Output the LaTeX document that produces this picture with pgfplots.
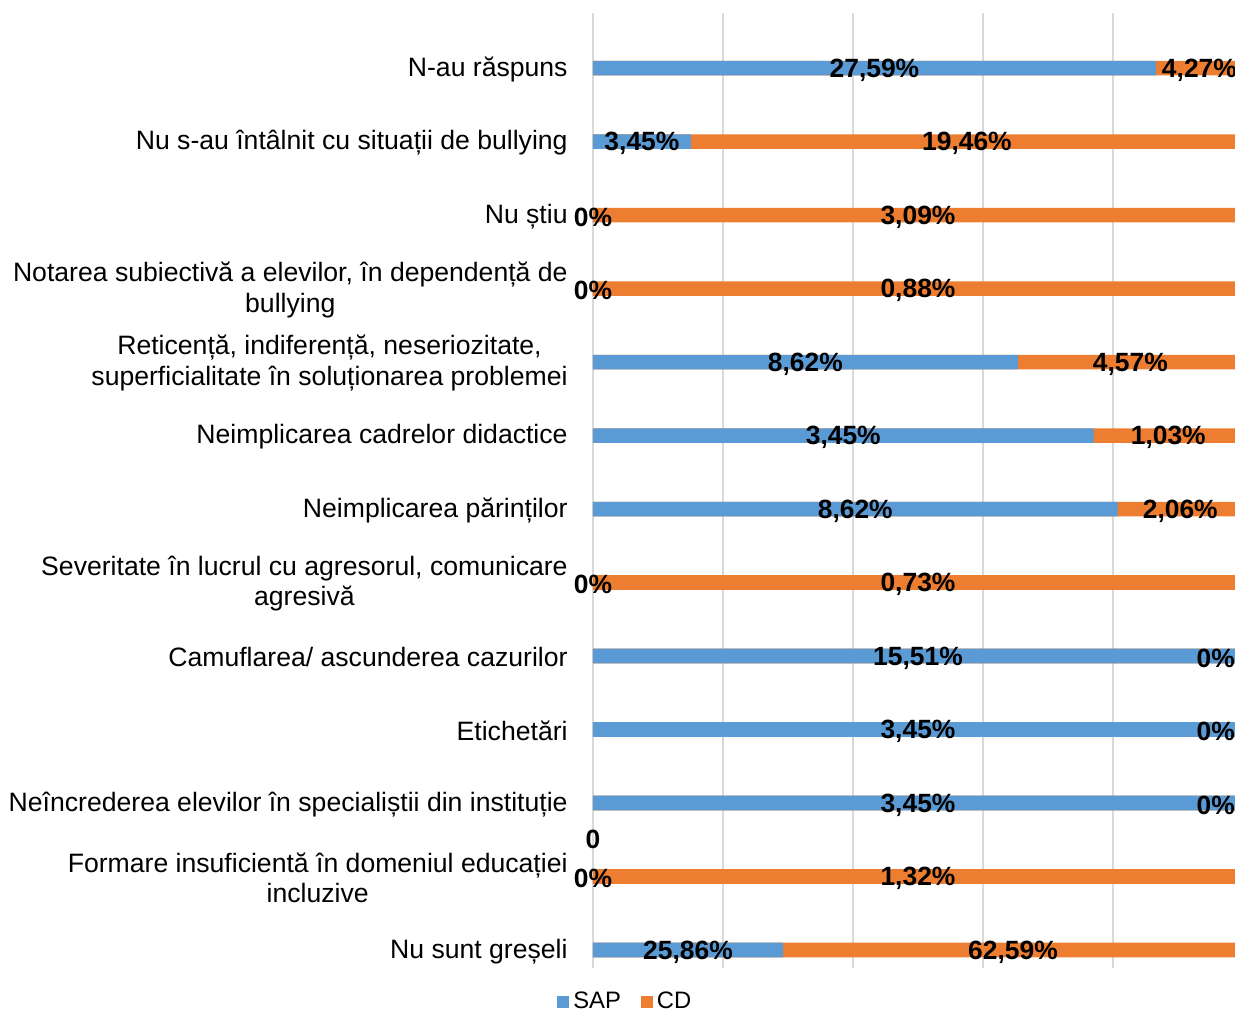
\documentclass[border=0pt]{standalone}
\usepackage{fontspec}
\setmainfont{Liberation Sans}
\usepackage{pgfplots}
\usepackage{pgfplotstable}
\pgfplotsset{compat=1.18}
\definecolor{sap}{HTML}{5B9BD5}
\definecolor{cd}{HTML}{ED7D31}
\definecolor{gridc}{HTML}{D9D9D9}
\pgfplotstableread{
idx SAP CD
0 27.59 4.27
1 3.45 19.46
2 0 3.09
3 0 0.88
4 8.62 4.57
5 3.45 1.03
6 8.62 2.06
7 0 0.73
8 15.51 0
9 3.45 0
10 3.45 0
11 0 1.32
12 25.86 62.59
}\data
\begin{document}
\begin{tikzpicture}
\begin{axis}[
  name=ax,
  scale only axis, width=321pt, height=477.5pt,
  xmin=0, xmax=98.77, ymin=-0.75, ymax=12.245, y dir=reverse,
  axis line style={draw=none}, tick style={draw=none},
  xtick={0,20,...,100}, xticklabels={},
  xmajorgrids, major grid style={gridc, line width=0.9pt},
  ytick={0,...,12},
  yticklabels={
    {N-au răspuns},
    {Nu s-au întâlnit cu situații de bullying},
    {Nu știu},
    {Notarea subiectivă a elevilor, în dependență de\\bullying},
    {Reticență, indiferență, neseriozitate,\\superficialitate în soluționarea problemei},
    {Neimplicarea cadrelor didactice},
    {Neimplicarea părinților},
    {Severitate în lucrul cu agresorul, comunicare\\agresivă},
    {Camuflarea/ ascunderea cazurilor},
    {Etichetări},
    {Neîncrederea elevilor în specialiștii din instituție},
    {Formare insuficientă în domeniul educației\\incluzive},
    {Nu sunt greșeli}},
  yticklabel style={font=\fontsize{13.3}{15.3}\selectfont, align=center, anchor=east, inner sep=0pt, xshift=-12.5pt, yshift=-0.6pt},
  bar width=7.3pt, bar shift=0pt,
  clip=false,
  legend style={at={(axis description cs:0.052,-0.0356)}, anchor=center, draw=none,
    font=\fontsize{11.9}{14}\selectfont, legend columns=2,
    /tikz/every even column/.append style={column sep=8pt}, inner sep=0pt},
  legend image code/.code={\fill[#1] (0pt,-3pt) rectangle (6pt,3pt);},
  reverse legend,
]
\addplot[xbar, fill=cd, draw=none] table[x expr=100, y=idx] {\data};
\addlegendentry{CD}
\addplot[xbar, fill=sap, draw=none] table[x expr={100*\thisrow{SAP}/(\thisrow{SAP}+\thisrow{CD})}, y=idx] {\data};
\addlegendentry{SAP}
\addplot[forget plot, only marks, mark=none, draw=none, point meta=\thisrow{SAP},
  nodes near coords={\pgfmathprintnumber[fixed,precision=2,use comma,assume math mode=true]{\pgfplotspointmeta}\%},
  nodes near coords style={anchor=center, font=\bfseries\fontsize{13.2}{15}\selectfont, inner sep=0pt, yshift=-1pt}]
  table[x expr={50*\thisrow{SAP}/(\thisrow{SAP}+\thisrow{CD})}, y=idx] {\data};
\addplot[forget plot, only marks, mark=none, draw=none, point meta=\thisrow{CD},
  nodes near coords={\pgfmathprintnumber[fixed,precision=2,use comma,assume math mode=true]{\pgfplotspointmeta}\%},
  nodes near coords style={anchor=center, font=\bfseries\fontsize{13.2}{15}\selectfont, inner sep=0pt, yshift=-1pt}]
  table[x expr={min(50+50*\thisrow{SAP}/(\thisrow{SAP}+\thisrow{CD}),95.8)}, y=idx] {\data};
\node[font=\bfseries\fontsize{13.2}{15}\selectfont, inner sep=0pt] at (axis cs:0,10.5) {0};
\end{axis}
\pgfresetboundingbox
\path[use as bounding box] ([shift={(-296.5pt,-21.5pt)}]ax.south west) rectangle ([shift={(0pt,6.5pt)}]ax.north east);
\end{tikzpicture}
\end{document}
